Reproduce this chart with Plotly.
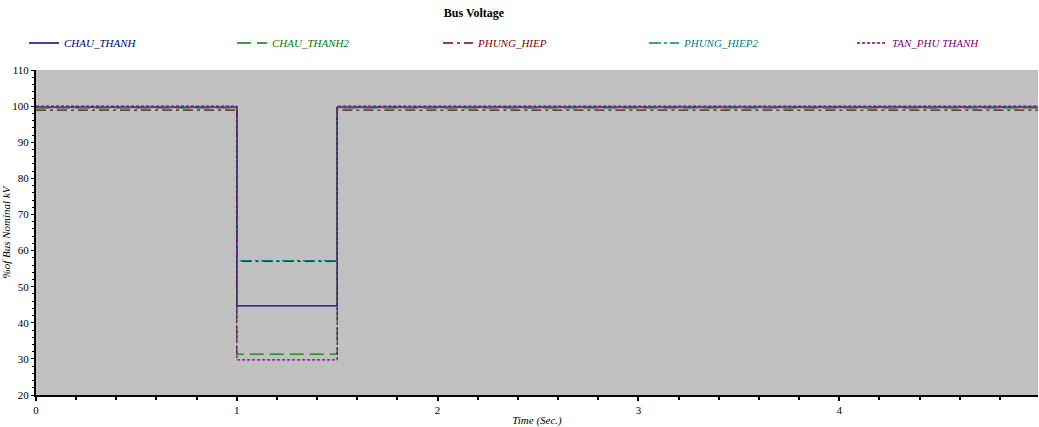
import plotly.graph_objects as go

# Time breakpoints (s): start, fault on, fault cleared, end
time = [0.0, 1.0, 1.5, 4.99]

names = ["CHAU_THANH", "CHAU_THANH2", "PHUNG_HIEP", "PHUNG_HIEP2", "TAN_PHU THANH"]
chau_thanh = [99.7, 44.7, 99.7, 99.7]
chau_thanh2 = [99.5, 31.3, 99.5, 99.5]
phung_hiep = [98.9, 57.0, 98.9, 98.9]
phung_hiep2 = [99.6, 57.2, 99.6, 99.6]
tan_phu_thanh = [100.0, 29.7, 100.0, 100.0]

series = [chau_thanh, chau_thanh2, phung_hiep, phung_hiep2, tan_phu_thanh]
colors = ["#000080", "#008000", "#800000", "#008080", "#800080"]
dashes = ["solid", "14px,6px", "10px,4px,3px,4px", "12px,3px,3px,3px", "3px,2px"]
legend_px = [24, 232, 438, 644, 852]  # left edge of each legend entry (pixels)

FONT = "Liberation Serif"

fig = go.Figure()
legend_ids = ["legend", "legend2", "legend3", "legend4", "legend5"]
for n, y, c, d, lid in zip(names, series, colors, dashes, legend_ids):
    fig.add_trace(go.Scatter(
        x=time, y=y, mode="lines", line_shape="hv",
        line=dict(color=c, width=1.3, dash=d),
        name=f"<span style='color:{c}'><i>{n}</i></span>",
        legend=lid,
    ))

legend_layout = {}
for lid, px in zip(legend_ids, legend_px):
    legend_layout[lid] = dict(
        orientation="h", x=px / 1039, xanchor="left",
        xref="container", yref="container", y=1 - 43 / 427, yanchor="middle",
        itemwidth=30, font=dict(family=FONT, size=11), bgcolor="rgba(0,0,0,0)")

axis_common = dict(showgrid=False, zeroline=False, showline=True, linecolor="black",
                   linewidth=2, tickfont=dict(family=FONT, size=11, color="black"),
                   ticks="outside", tickcolor="black", automargin=False)

fig.update_layout(
    width=1039, height=427,
    margin=dict(l=36, r=1, t=70, b=32, autoexpand=False),
    paper_bgcolor="white", plot_bgcolor="#C0C0C0",
    title=dict(text="<b>Bus Voltage</b>", x=474 / 1039, xanchor="center",
               xref="container", yref="container", y=1 - 13 / 427, yanchor="middle",
               automargin=False,
               font=dict(family=FONT, size=12, color="black")),
    xaxis=dict(range=[0, 4.99], tickmode="array", tickvals=[0, 1, 2, 3, 4],
               ticklen=4, tickwidth=2,
               minor=dict(dtick=0.2, ticks="outside", ticklen=3, tickwidth=2, tickcolor="black"),
               title=dict(text="<i>Time (Sec.)</i>", font=dict(family=FONT, size=11, color="black"),
                          standoff=4),
               **axis_common),
    yaxis=dict(range=[20, 110], dtick=10, ticklen=3, tickwidth=1,
               minor=dict(dtick=2, ticks="outside", ticklen=2, tickwidth=1, tickcolor="black"),
               title=dict(text="<i>%of Bus Nominal kV</i>", font=dict(family=FONT, size=11, color="black"),
                          standoff=4),
               **axis_common),
    showlegend=True,
    **legend_layout,
)

fig.write_html("out.html", config={"displayModeBar": False},
               post_script="document.body.style.margin='0px';document.body.style.overflow='hidden';")
